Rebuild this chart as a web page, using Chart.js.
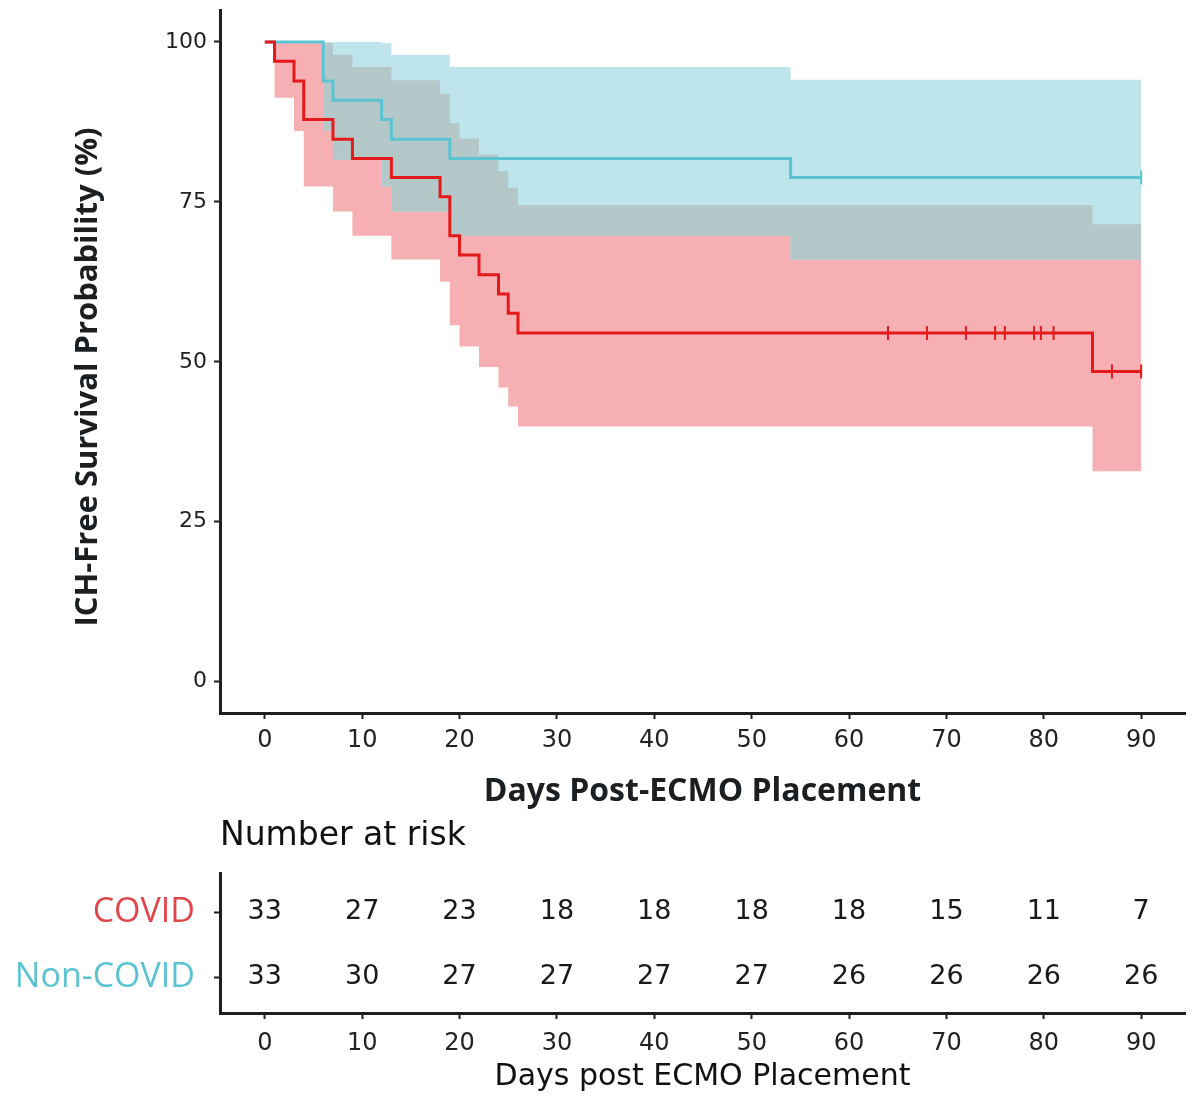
<!DOCTYPE html>
<html>
<head>
<meta charset="utf-8">
<script src="https://cdn.jsdelivr.net/npm/chart.js@4.4.1/dist/chart.umd.min.js"></script>
<style>
  body { margin: 0; background: #fff; }
  #wrap { position: relative; width: 1200px; height: 1104px; }
  canvas { position: absolute; left: 0; }
  #kmChart { top: 0; }
  #riskChart { top: 820px; }
</style>
</head>
<body>
<div id="wrap">
  <canvas id="kmChart" width="1200" height="820"></canvas>
  <canvas id="riskChart" width="1200" height="284"></canvas>
</div>
<script>
// KM estimates (percent)
const covidTime  = [0, 1, 3, 4, 7, 9, 13, 18, 19, 20, 22, 24, 25, 26, 85, 90];
const covidSurv  = [100, 97.0, 93.9, 87.9, 84.8, 81.8, 78.8, 75.8, 69.7, 66.7, 63.6, 60.6, 57.6, 54.5, 48.5, 48.5];
const covidUpper = [100, 100, 100, 99.8, 98.0, 96.1, 94.0, 91.9, 87.3, 84.9, 82.4, 79.8, 77.2, 74.5, 71.5, 71.5];
const covidLower = [100, 91.3, 86.1, 77.4, 73.5, 69.7, 66.0, 62.5, 55.7, 52.4, 49.2, 46.0, 43.0, 39.9, 32.9, 32.9];
const covidCensor = [64, 68, 72, 75, 76, 79, 79.7, 81, 87, 90];

const nonTime  = [0, 6, 7, 12, 13, 19, 54, 90];
const nonSurv  = [100, 93.9, 90.9, 87.9, 84.8, 81.8, 78.8, 78.8];
const nonUpper = [100, 100, 100, 99.8, 98.0, 96.1, 94.1, 94.1];
const nonLower = [100, 86.1, 81.6, 77.4, 73.5, 69.7, 66.0, 66.0];
const nonCensor = [90];

// number at risk table
const riskTimes = [0, 10, 20, 30, 40, 50, 60, 70, 80, 90];
const covidRisk = [33, 27, 23, 18, 18, 18, 18, 15, 11, 7];
const nonRisk   = [33, 30, 27, 27, 27, 27, 26, 26, 26, 26];

const xTicks = [0, 10, 20, 30, 40, 50, 60, 70, 80, 90];
const yTicks = [0, 25, 50, 75, 100];

const RED = '#e3191c';
const TEAL = '#5cc3d2';
const PINK = '#f6b0b3';
const BLUE = '#bee4ec';
const GREY = '#b4c8ca';
const INK = '#1c1f22';

function pts(times, vals) {
    return times.map((t, i) => ({x: t, y: vals[i]}));
}
function stepAt(times, vals, t) {
    let v = vals[0];
    for (let i = 0; i < times.length; i++) {
        if (times[i] <= t) v = vals[i];
    }
    return v;
}

// where the two bands overlap
const allTimes = Array.from(new Set(covidTime.concat(nonTime))).sort((a, b) => a - b);
const overlapTop = [], overlapBot = [];
allTimes.forEach(t => {
    const top = Math.min(stepAt(covidTime, covidUpper, t), stepAt(nonTime, nonUpper, t));
    let bot = Math.max(stepAt(covidTime, covidLower, t), stepAt(nonTime, nonLower, t));
    if (bot > top) bot = top;
    overlapTop.push({x: t, y: top});
    overlapBot.push({x: t, y: bot});
});

// lower "order" is drawn on top
function band(data, fillColor, fill, order) {
    return {
        data: data, stepped: 'before', borderWidth: 0, pointRadius: 0, order: order,
        borderColor: 'rgba(0,0,0,0)', backgroundColor: fillColor, fill: fill
    };
}

function noScalePadding(s) {
    s.paddingTop = 0; s.paddingBottom = 0; s.paddingLeft = 0; s.paddingRight = 0;
}

const yTitle = {
    id: 'yTitle',
    afterDraw(chart) {
        const ctx = chart.ctx;
        ctx.save();
        ctx.translate(88, 377);
        ctx.rotate(-Math.PI / 2);
        ctx.font = 'bold 31px "Open Sans"';
        ctx.fillStyle = INK;
        ctx.textAlign = 'center';
        ctx.textBaseline = 'middle';
        ctx.fillText('ICH-Free Survival Probability (%)', 0, 0);
        ctx.restore();
    }
};

new Chart(document.getElementById('kmChart').getContext('2d'), {
    type: 'line',
    data: {
        datasets: [
            band(pts(covidTime, covidUpper), PINK, '+1', 6),
            band(pts(covidTime, covidLower), PINK, false, 6),
            band(pts(nonTime, nonUpper), BLUE, '+1', 5),
            band(pts(nonTime, nonLower), BLUE, false, 5),
            band(overlapTop, GREY, '+1', 4),
            band(overlapBot, GREY, false, 4),
            {
                data: pts(covidTime, covidSurv), stepped: 'before', borderColor: RED,
                borderWidth: 3, pointRadius: 0, fill: false, order: 1
            },
            {
                data: pts(nonTime, nonSurv), stepped: 'before', borderColor: TEAL,
                borderWidth: 3, pointRadius: 0, fill: false, order: 2
            },
            {
                data: covidCensor.map(t => ({x: t, y: stepAt(covidTime, covidSurv, t)})),
                showLine: false, pointStyle: 'line', rotation: 90, pointRadius: 7,
                borderColor: RED, borderWidth: 2, order: 0
            },
            {
                data: nonCensor.map(t => ({x: t, y: stepAt(nonTime, nonSurv, t)})),
                showLine: false, pointStyle: 'line', rotation: 90, pointRadius: 7,
                borderColor: TEAL, borderWidth: 2, order: 0
            }
        ]
    },
    options: {
        responsive: false,
        animation: false,
        layout: { padding: { left: 0, right: 15, top: 10, bottom: 0 } },
        plugins: { legend: { display: false }, tooltip: { enabled: false } },
        scales: {
            x: {
                type: 'linear', min: -4.6, max: 94.5,
                afterBuildTicks: s => { s.ticks = xTicks.map(v => ({value: v})); },
                afterFit: s => { s.height = 107; noScalePadding(s); },
                border: { display: true, color: INK, width: 3 },
                grid: { drawOnChartArea: false, drawTicks: true, tickLength: 6, tickColor: INK, tickWidth: 2 },
                ticks: { color: '#222', font: { family: 'DejaVu Sans', size: 24 }, padding: 7, maxRotation: 0 },
                title: {
                    display: true, text: 'Days Post-ECMO Placement', color: INK,
                    font: { family: 'Open Sans', size: 32, weight: 'bold' },
                    padding: { top: 0, bottom: 9 }
                }
            },
            y: {
                type: 'linear', min: -4.9, max: 105,
                afterBuildTicks: s => { s.ticks = yTicks.map(v => ({value: v})); },
                afterFit: s => { s.width = 220; noScalePadding(s); },
                border: { display: true, color: INK, width: 3 },
                grid: { drawOnChartArea: false, drawTicks: true, tickLength: 6, tickColor: INK, tickWidth: 2 },
                ticks: { color: '#222', font: { family: 'DejaVu Sans', size: 22 }, padding: 7 }
            }
        }
    },
    plugins: [yTitle]
});

const riskText = {
    id: 'riskText',
    afterDatasetsDraw(chart) {
        const ctx = chart.ctx;
        const xs = chart.scales.x, ys = chart.scales.y;
        ctx.save();
        ctx.font = '27px "DejaVu Sans"';
        ctx.fillStyle = '#1a1a1a';
        ctx.textAlign = 'center';
        ctx.textBaseline = 'middle';
        riskTimes.forEach((t, i) => {
            ctx.fillText(String(covidRisk[i]), xs.getPixelForValue(t), ys.getPixelForValue(2));
            ctx.fillText(String(nonRisk[i]), xs.getPixelForValue(t), ys.getPixelForValue(1));
        });
        ctx.restore();
    }
};

new Chart(document.getElementById('riskChart').getContext('2d'), {
    type: 'scatter',
    data: { datasets: [] },
    options: {
        responsive: false,
        animation: false,
        layout: { padding: { left: 0, right: 15, top: 0, bottom: 0 } },
        plugins: {
            legend: { display: false },
            tooltip: { enabled: false },
            title: {
                display: true, text: 'Number at risk', align: 'start', fullSize: false,
                color: '#111', font: { family: 'DejaVu Sans', size: 33, weight: 'normal', lineHeight: 1.0 },
                padding: { top: 0, bottom: 20 }
            }
        },
        scales: {
            x: {
                type: 'linear', min: -4.6, max: 94.5,
                afterBuildTicks: s => { s.ticks = xTicks.map(v => ({value: v})); },
                afterFit: s => { s.height = 91; noScalePadding(s); },
                border: { display: true, color: INK, width: 3 },
                grid: { drawOnChartArea: false, drawTicks: true, tickLength: 6, tickColor: INK, tickWidth: 2 },
                ticks: { color: '#222', font: { family: 'DejaVu Sans', size: 24 }, padding: 10, maxRotation: 0 },
                title: {
                    display: true, text: 'Days post ECMO Placement', color: '#111',
                    font: { family: 'DejaVu Sans', size: 30 },
                    padding: { top: 0, bottom: 9 }
                }
            },
            y: {
                type: 'linear', min: 0.45, max: 2.6,
                afterBuildTicks: s => { s.ticks = [{value: 1}, {value: 2}]; },
                afterFit: s => { s.width = 220; noScalePadding(s); },
                border: { display: true, color: INK, width: 3 },
                grid: { drawOnChartArea: false, drawTicks: true, tickLength: 6, tickColor: INK, tickWidth: 2 },
                ticks: {
                    font: { family: 'Open Sans', size: 34 },
                    padding: 19,
                    color: c => (c.tick && c.tick.value === 2) ? '#e0474c' : TEAL,
                    callback: v => v === 2 ? 'COVID' : 'Non-COVID'
                }
            }
        }
    },
    plugins: [riskText]
});
</script>
</body>
</html>
